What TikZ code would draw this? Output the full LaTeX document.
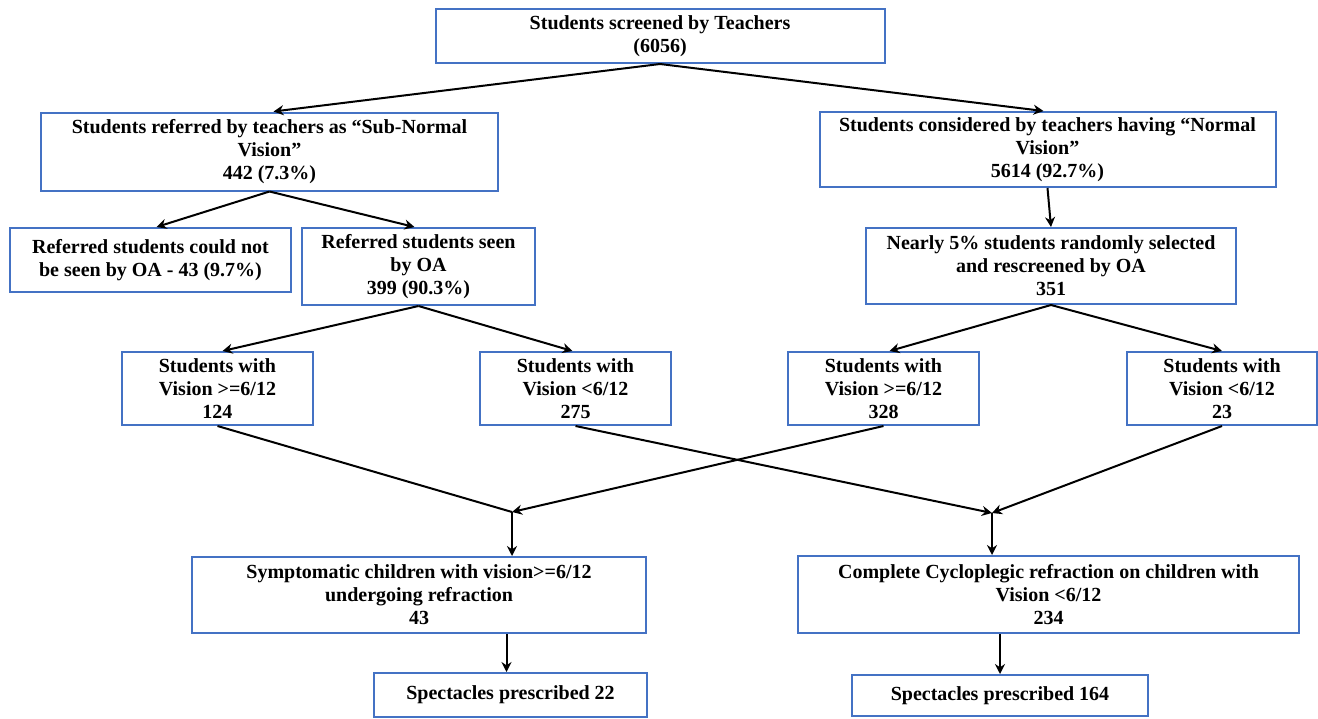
\documentclass[tikz,border=0pt]{standalone}
\usepackage{fontspec}
\setmainfont{Liberation Serif}
\usetikzlibrary{arrows.meta,positioning}
\definecolor{boxblue}{RGB}{68,114,196}
\tikzset{
      flowbox/.style={
        draw=boxblue,
        line width=1pt,
        fill=white,
        align=center,
        inner sep=1pt,
        font=\bfseries\fontsize{10}{11.5}\selectfont
      },
      flowarrow/.style={
        -{Stealth[length=5pt,width=5pt]},
        line width=1pt,
        color=black
      },
      flowline/.style={
        line width=1pt,
        color=black
      }
    }

\begin{document}
\begin{tikzpicture}[x=0.5pt,y=-0.5pt]
    \useasboundingbox (0,0) rectangle (1318,718);
    \node[flowbox, minimum width=224.5pt, minimum height=27pt] (top) at (660,36) {Students screened by Teachers\\(6056)};
    \node[flowbox, minimum width=228.5pt, minimum height=39pt] (sub) at (269.5,151.5) {Students referred by teachers as ``Sub-Normal\\Vision''\\442 (7.3\%)};
    \node[flowbox, minimum width=228pt, minimum height=37.5pt] (normal) at (1047.5,149.5) {Students considered by teachers having ``Normal\\Vision''\\5614 (92.7\%)};
    \node[flowbox, minimum width=140.5pt, minimum height=32pt] (notseen) at (150.5,260) {Referred students could not\\be seen by OA - 43 (9.7\%)};
    \node[flowbox, minimum width=116.5pt, minimum height=38.5pt] (seen) at (418.5,266.5) {Referred students seen\\by OA\\399 (90.3\%)};
    \node[flowbox, minimum width=185pt, minimum height=38pt] (nearly) at (1051,266) {Nearly 5\% students randomly selected\\and rescreened by OA\\351};
    \node[flowbox, minimum width=95.5pt, minimum height=36.5pt] (s124) at (217.5,388.5) {Students with\\Vision >=6/12\\124};
    \node[flowbox, minimum width=95.5pt, minimum height=36.5pt] (s275) at (575.5,388.5) {Students with\\Vision <6/12\\275};
    \node[flowbox, minimum width=95.5pt, minimum height=36.5pt] (s328) at (883.5,388.5) {Students with\\Vision >=6/12\\328};
    \node[flowbox, minimum width=95pt, minimum height=36.5pt] (s23) at (1222,388.5) {Students with\\Vision <6/12\\23};
    \node[flowbox, minimum width=227pt, minimum height=38pt] (symp) at (419,595) {Symptomatic children with vision>=6/12\\undergoing refraction\\43};
    \node[flowbox, minimum width=250.5pt, minimum height=38.5pt] (comp) at (1048.5,594.5) {Complete Cycloplegic refraction on children with\\Vision <6/12\\234};
    \node[flowbox, minimum width=136.5pt, minimum height=22pt] (spec22) at (510.5,695) {Spectacles prescribed 22};
    \node[flowbox, minimum width=148pt, minimum height=20.5pt] (spec164) at (1000,695.5) {Spectacles prescribed 164};
    \coordinate (j1) at (512,512);
    \coordinate (j2) at (992,513);
    \draw[flowarrow] (top.south) -- ([xshift=2pt]sub.north);
    \draw[flowarrow] (top.south) -- ([xshift=-2pt]normal.north);
    \draw[flowarrow] (sub.south) -- ([xshift=3pt]notseen.north);
    \draw[flowarrow] (sub.south) -- ([xshift=-2pt]seen.north);
    \draw[flowarrow] (normal.south) -- (nearly.north);
    \draw[flowarrow] (seen.south) -- ([xshift=2.5pt]s124.north);
    \draw[flowarrow] (seen.south) -- ([xshift=-1.5pt]s275.north);
    \draw[flowarrow] (nearly.south) -- ([xshift=3pt]s328.north);
    \draw[flowarrow] (nearly.south) -- (s23.north);
    \draw[flowline] (s124.south) -- (j1);
    \draw[flowarrow] (s328.south) -- (j1);
    \draw[flowarrow] (s275.south) -- (j2);
    \draw[flowarrow] (s23.south) -- (j2);
    \draw[flowarrow] (j1) -- (j1 |- symp.north);
    \draw[flowarrow] (j2) -- (j2 |- comp.north);
    \draw[flowarrow] ([xshift=-2pt]spec22.north |- symp.south) -- ([xshift=-2pt]spec22.north);
    \draw[flowarrow] (spec164.north |- comp.south) -- (spec164.north);
\end{tikzpicture}
\end{document}
